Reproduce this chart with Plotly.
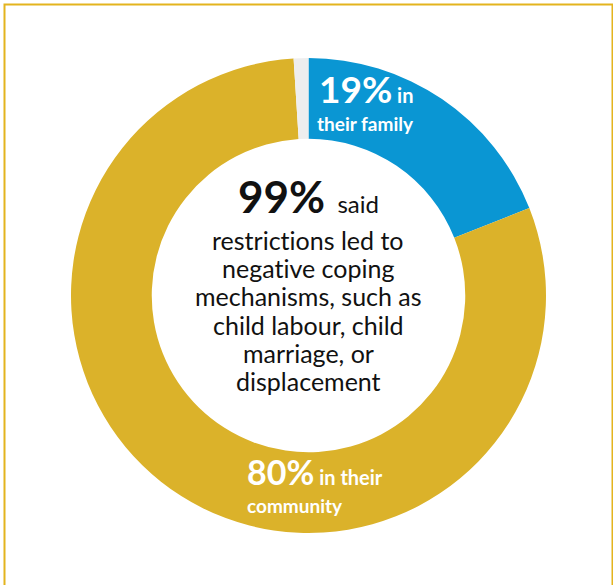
import plotly.graph_objects as go

# Share of respondents by where negative coping mechanisms were observed
segments = ["in their family", "in their community", "other"]
shares = [19, 80, 1]
colors = ["#0A96D3", "#DBB22A", "#EEEEEE"]

headline_value = "99%"
headline_lines = [
    "restrictions led to",
    "negative coping",
    "mechanisms, such as",
    "child labour, child",
    "marriage, or",
    "displacement",
]

W, H = 613, 585
FONT = "Lato"
ZWNJ = "\u200c"  # keeps Lato from merging "ti" into a ligature

fig = go.Figure(
    go.Pie(
        labels=segments,
        values=shares,
        marker=dict(colors=colors, line=dict(width=0)),
        hole=0.66,
        sort=False,
        direction="clockwise",
        rotation=0,
        textinfo="none",
        hoverinfo="label+percent",
        showlegend=False,
        domain=dict(x=[71 / W, 546 / W], y=[1 - 533 / H, 1 - 58 / H]),
    )
)


def px_x(x):
    return x / W


def px_y(y):
    return 1 - y / H


annotations = []

# Central statement
annotations.append(dict(
    x=px_x(308), y=px_y(224), xanchor="center", yanchor="bottom",
    text=f"<b><span style='font-size:44px'>{headline_value}</span></b>"
         f"<span style='font-size:24px'>  said</span>",
    font=dict(family=FONT, size=24, color="#111111"),
))
for i, line in enumerate(headline_lines):
    annotations.append(dict(
        x=px_x(308), y=px_y(240 + i * 28.2), xanchor="center", yanchor="middle",
        text=line.replace("ti", "t" + ZWNJ + "i"),
        font=dict(family=FONT, size=25, color="#111111"),
    ))

# Blue segment label
annotations.append(dict(
    x=px_x(317), y=px_y(113), xanchor="left", yanchor="bottom",
    text=f"<b><span style='font-size:37px'>{shares[0]}%</span>"
         f"<span style='font-size:20px'> in</span></b>",
    font=dict(family=FONT, size=20, color="white"),
))
annotations.append(dict(
    x=px_x(315), y=px_y(123), xanchor="left", yanchor="middle",
    text="<b>their family</b>",
    font=dict(family=FONT, size=19, color="white"),
))

# Gold segment label
annotations.append(dict(
    x=px_x(245), y=px_y(494), xanchor="left", yanchor="bottom",
    text=f"<b><span style='font-size:34px'>{shares[1]}%</span>"
         f"<span style='font-size:20px'> in their</span></b>",
    font=dict(family=FONT, size=20, color="white"),
))
annotations.append(dict(
    x=px_x(245), y=px_y(505), xanchor="left", yanchor="middle",
    text="<b>community</b>",
    font=dict(family=FONT, size=19, color="white"),
))

for a in annotations:
    a.update(xref="paper", yref="paper", showarrow=False)

fig.update_layout(
    width=W, height=H,
    margin=dict(l=0, r=0, t=0, b=0),
    paper_bgcolor="white",
    plot_bgcolor="white",
    annotations=annotations,
    shapes=[dict(
        type="rect", xref="paper", yref="paper",
        x0=px_x(4.5), x1=px_x(612.5), y0=px_y(4.5), y1=px_y(600),
        line=dict(color="#E3B41E", width=2), fillcolor="rgba(0,0,0,0)",
        layer="below",
    )],
)

fig.write_html("out.html")
